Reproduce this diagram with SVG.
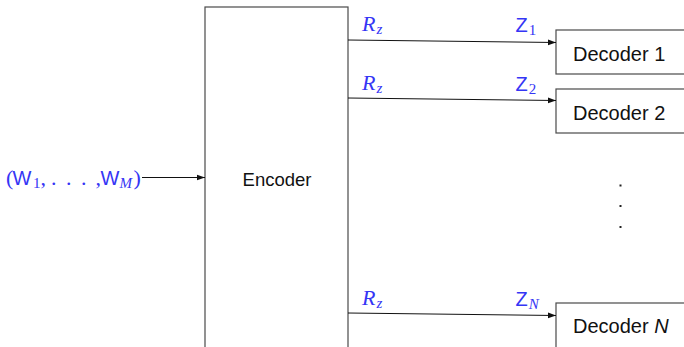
<svg xmlns="http://www.w3.org/2000/svg" width="684" height="347" viewBox="0 0 684 347">
  <style>
    .box { fill: #ffffff; stroke: #4a4a4a; stroke-width: 1.2; }
    .lbl { font-family: "Liberation Sans", Arial, sans-serif; fill: #111111; }
    .math { fill: #3535f5; font-size: 20px; }
    .sf { font-family: "Liberation Sans", Arial, sans-serif; }
    .rm { font-family: "Liberation Serif", "Times New Roman", serif; }
    .it { font-family: "Liberation Serif", "Times New Roman", serif; font-style: italic; }
    .sub { font-size: 15px; }
    .big { font-size: 22px; }
    .edge { stroke: #111111; stroke-width: 1; fill: none; marker-end: url(#arrow); }
  </style>
  <defs>
    <marker id="arrow" viewBox="0 0 10 10" refX="10" refY="5" markerWidth="8" markerHeight="8" markerUnits="userSpaceOnUse" orient="auto">
      <path d="M0,1.5 L10,5 L0,8.5 Z" fill="#111111"/>
    </marker>
  </defs>

  <rect width="684" height="347" fill="#ffffff"/>

  <!-- message tuple feeding the encoder -->
  <g id="input" class="math">
    <text class="rm big" x="6" y="185">(</text>
    <text class="sf" x="12.5" y="184.5">W</text>
    <text class="rm sub" x="33" y="188">1</text>
    <text class="rm big" x="40.5" y="185">,</text>
    <text class="rm big" x="51" y="185">.</text>
    <text class="rm big" x="66" y="185">.</text>
    <text class="rm big" x="81" y="185">.</text>
    <text class="rm big" x="95.5" y="185">,</text>
    <text class="sf" x="100.5" y="184.5">W</text>
    <text class="it sub" x="119.5" y="188">M</text>
    <text class="rm big" x="133.5" y="185">)</text>
  </g>

  <g id="encoder">
    <rect class="box" x="205" y="7" width="143" height="360"/>
    <text class="lbl" x="277" y="186" font-size="18.5" text-anchor="middle">Encoder</text>
  </g>

  <g id="decoder1">
    <rect class="box" x="556" y="30" width="140" height="44"/>
    <text class="lbl" x="573" y="61" font-size="20">Decoder 1</text>
  </g>

  <g id="decoder2">
    <rect class="box" x="556" y="89" width="140" height="44"/>
    <text class="lbl" x="573" y="120" font-size="20">Decoder 2</text>
  </g>

  <g id="decoderN">
    <rect class="box" x="556" y="303" width="140" height="60"/>
    <text class="lbl" x="573" y="333" font-size="20">Decoder <tspan font-style="italic">N</tspan></text>
  </g>

  <!-- vertical ellipsis between decoder 2 and decoder N -->
  <g id="ellipsis" fill="#222222">
    <rect x="619.5" y="184.5" width="2" height="2"/>
    <rect x="619.5" y="205" width="2" height="2"/>
    <rect x="619.5" y="226" width="2" height="2"/>
  </g>

  <g id="connectors">
    <line class="edge" x1="142" y1="177.5" x2="205" y2="177.5"/>
    <line class="edge" x1="348" y1="40" x2="556" y2="42.5"/>
    <line class="edge" x1="348" y1="98" x2="556" y2="100.5"/>
    <line class="edge" x1="348" y1="313" x2="556" y2="315.5"/>
  </g>

  <!-- rate and channel-output labels -->
  <g id="labels" class="math">
    <text x="362" y="30.5"><tspan class="it big">R</tspan><tspan class="it sub" dx="1" dy="3">z</tspan></text>
    <text x="515.5" y="31.5"><tspan class="sf">Z</tspan><tspan class="rm sub" dx="1" dy="3">1</tspan></text>
    <text x="362" y="90"><tspan class="it big">R</tspan><tspan class="it sub" dx="1" dy="3">z</tspan></text>
    <text x="515.5" y="91"><tspan class="sf">Z</tspan><tspan class="rm sub" dx="1" dy="3">2</tspan></text>
    <text x="362" y="304.5"><tspan class="it big">R</tspan><tspan class="it sub" dx="1" dy="3">z</tspan></text>
    <text x="515.5" y="305.5"><tspan class="sf">Z</tspan><tspan class="it sub" dx="1" dy="3">N</tspan></text>
  </g>
</svg>
